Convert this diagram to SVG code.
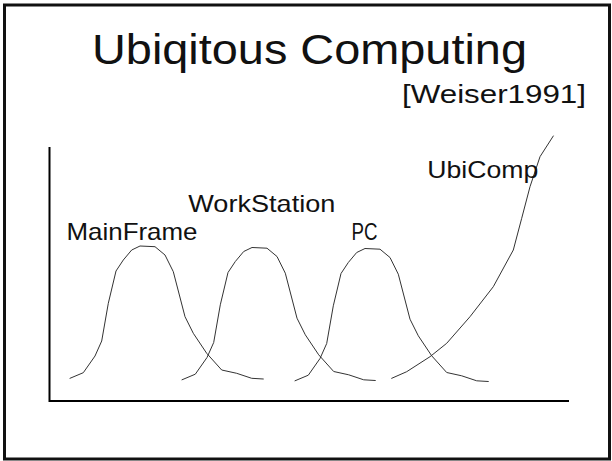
<svg xmlns="http://www.w3.org/2000/svg" xmlns:xlink="http://www.w3.org/1999/xlink" width="612" height="461" viewBox="0 0 612 461">
<style>
.t{font-family:"Liberation Sans",Arial,sans-serif;fill:#111;}
.curve{fill:none;stroke:#333;stroke-width:1;stroke-linejoin:round;stroke-linecap:round;}
.axis{stroke:#000;stroke-width:2;fill:none;}
</style>
<defs>
<path id="bell" d="M70,378.3 L83.3,372.7 L95,356 L101.7,341 L108.3,303.3 L116,271 L123.3,260 L131.7,250 L140,246 L155,246.7 L165,255 L173.3,271.7 L185,316.7 L193.3,333.3 L206.7,353.3 L221.7,370 L236.7,373.3 L251.7,378.3 L263.3,379"/>
</defs>
<rect x="4.5" y="5" width="605" height="454" fill="#fff" stroke="#111" stroke-width="3"/>
<g id="title">
<text class="t" x="92" y="64" font-size="43" textLength="435" lengthAdjust="spacingAndGlyphs">Ubiqitous Computing</text>
<text class="t" x="402" y="103" font-size="26" textLength="184" lengthAdjust="spacingAndGlyphs">[Weiser1991]</text>
</g>
<g id="axes">
<path class="axis" d="M49.5,147 L49.5,401 L569,401"/>
</g>
<g id="mainframe">
<use xlink:href="#bell" class="curve"/>
<text class="t" x="66.5" y="240" font-size="24" textLength="131" lengthAdjust="spacingAndGlyphs">MainFrame</text>
</g>
<g id="workstation">
<use xlink:href="#bell" class="curve" transform="translate(112,1.5)"/>
<text class="t" x="188.3" y="211.7" font-size="24" textLength="147" lengthAdjust="spacingAndGlyphs">WorkStation</text>
</g>
<g id="pc">
<use xlink:href="#bell" class="curve" transform="translate(225,2.5)"/>
<text class="t" x="351.5" y="240" font-size="24" textLength="26" lengthAdjust="spacingAndGlyphs">PC</text>
</g>
<g id="ubicomp">
<path class="curve" d="M391.7,378.3 L406.7,371.7 L430,356.7 L446.7,343.3 L470,316.7 L493.3,286.7 L513.3,250 L521.7,218.3 L530,186.7 L540,156.7 L553.3,136"/>
<text class="t" x="427.3" y="178.3" font-size="24" textLength="111" lengthAdjust="spacingAndGlyphs">UbiComp</text>
</g>
</svg>
